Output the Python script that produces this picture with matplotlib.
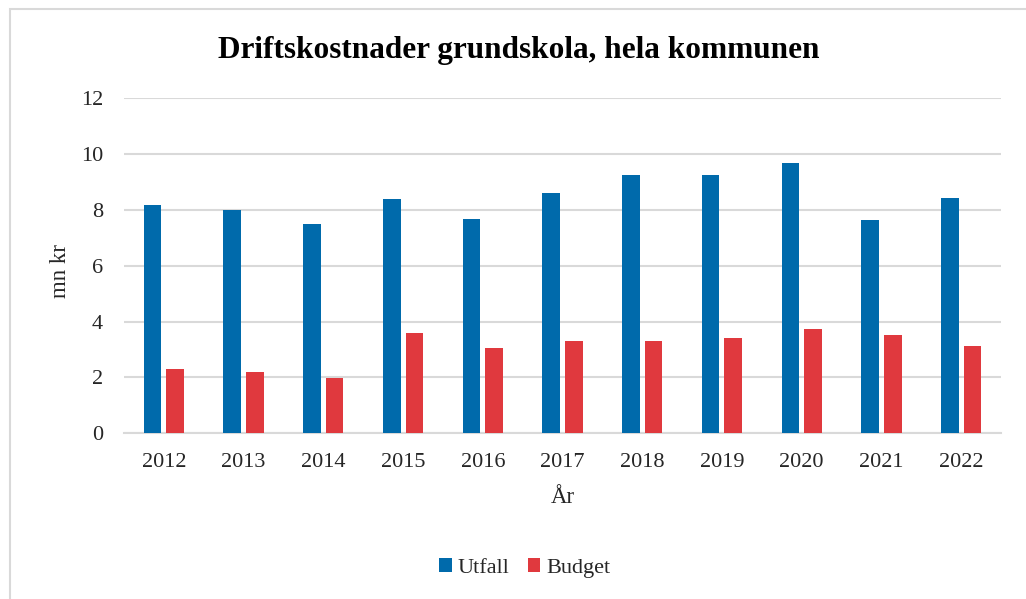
import matplotlib
matplotlib.use("Agg")
import matplotlib.pyplot as plt
import numpy as np
from matplotlib.patches import Rectangle

years = ["2012", "2013", "2014", "2015", "2016", "2017", "2018", "2019", "2020", "2021", "2022"]
utfall = [8.19, 8.00, 7.49, 8.37, 7.68, 8.61, 9.25, 9.25, 9.67, 7.64, 8.41]
budget = [2.31, 2.18, 1.98, 3.60, 3.04, 3.29, 3.29, 3.41, 3.73, 3.52, 3.11]

plt.rcParams['font.family'] = ['Liberation Serif', 'DejaVu Serif']

W, H = 1026, 599
fig = plt.figure(figsize=(W / 100, H / 100), dpi=100)
fig.patches.append(Rectangle((9.5 / W, -0.05), 1.1, 1 - 8.5 / H + 0.05,
                             transform=fig.transFigure, fill=False,
                             edgecolor='#d9d9d9', linewidth=1.5))
ax = fig.add_axes([124 / W, 1 - 433.3 / H, 877 / W, (433.3 - 98.1) / H])

x = np.arange(len(years))
w = 0.222
off = 0.142
ax.bar(x - off, utfall, width=w, color='#006AAB', label='Utfall', zorder=3)
ax.bar(x + off, budget, width=w, color='#E0393E', label='Budget', zorder=3)

ax.set_xlim(-0.5, len(years) - 0.5)
ax.set_ylim(0, 12)
ax.set_yticks(range(0, 13, 2))
ax.set_xticks(x)
ax.set_xticklabels(years)
ax.yaxis.grid(True, color='#d9d9d9', linewidth=1.5, zorder=0)
ax.set_axisbelow(True)
for s in ['top', 'right', 'left']:
    ax.spines[s].set_visible(False)
ax.spines['bottom'].set_color('#d9d9d9')
ax.spines['bottom'].set_linewidth(1.5)
ax.tick_params(axis='both', length=0, labelsize=16, labelcolor='#262626')
ax.tick_params(axis='y', pad=15)
ax.tick_params(axis='x', pad=14)

ax.set_xlabel('År', fontsize=16.5, color='#262626', labelpad=11)
fig.text(61 / W, 1 - 271 / H, 'mn kr', rotation=90, ha='center', va='center',
         fontsize=16.5, color='#262626')

fig.text(519 / W, 1 - 58.3 / H, 'Driftskostnader grundskola, hela kommunen',
         ha='center', va='baseline', fontsize=22.5, fontweight='bold', color='black')

fig.legend(loc='center', bbox_to_anchor=(524.5 / W, 1 - 568 / H), ncol=2, frameon=False,
           fontsize=16, handlelength=0.57, handleheight=0.57, columnspacing=0.85,
           handletextpad=0.25, labelcolor='#262626')

fig.savefig('out.png', dpi=100)
